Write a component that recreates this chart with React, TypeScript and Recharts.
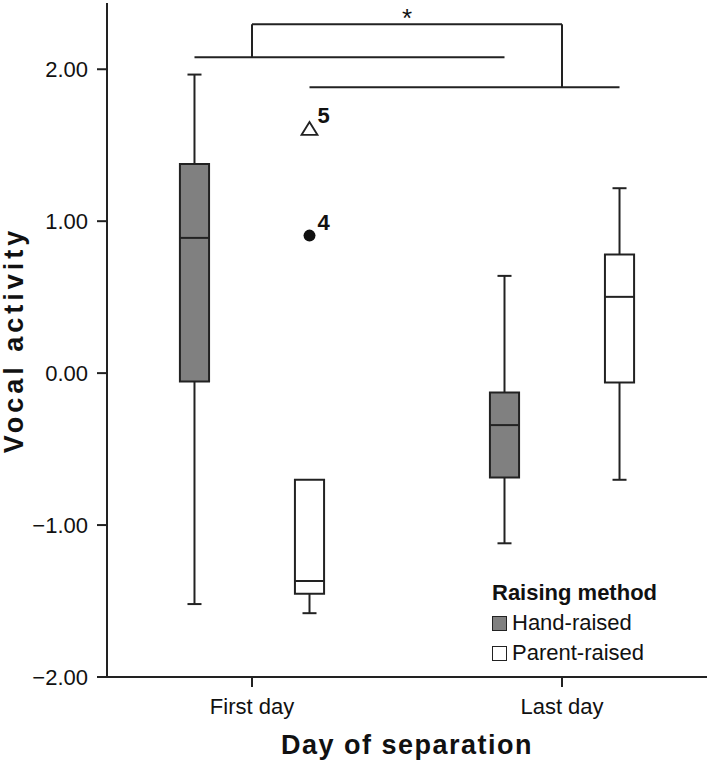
import {
  ComposedChart,
  XAxis,
  YAxis,
  Scatter,
  ReferenceArea,
  ReferenceLine,
  ReferenceDot,
  LabelList,
} from 'recharts';

const days = ['First day', 'Last day'];
const yTicks = [-2, -1, 0, 1, 2];

// box stats per day: [min, q1, median, q3, max]
const handRaised = [
  [-1.52, -0.055, 0.89, 1.377, 1.965],
  [-1.12, -0.687, -0.342, -0.128, 0.64],
];
const parentRaised = [
  [-1.58, -1.452, -1.368, -0.702, -0.702],
  [-0.702, -0.062, 0.502, 0.78, 1.217],
];

// outliers (parent-raised, first day)
const outlierCircle = [{ day: 0, y: 0.905, id: '4' }];
const outlierTriangle = [{ day: 0, y: 1.607, id: '5' }];

// significance bracket levels
const bracketHand = 2.079;
const bracketParent = 1.882;
const bracketTop = 2.296;

const FONT = 'Liberation Sans, Arial, Helvetica, sans-serif';
const INK = '#222';
const OFFSET = 0.1855;
const HALF_BOX = 0.047;
const HALF_CAP = 0.0226;

const boxes = [
  ...handRaised.map((s, i) => ({ s, x: i - OFFSET, fill: '#808080' })),
  ...parentRaised.map((s, i) => ({ s, x: i + OFFSET, fill: '#fff' })),
];
const circlePts = outlierCircle.map((p) => ({ ...p, x: p.day + OFFSET }));
const trianglePts = outlierTriangle.map((p) => ({ ...p, x: p.day + OFFSET }));

const seg = (x1: number, y1: number, x2: number, y2: number, key: string) => (
  <ReferenceLine
    key={key}
    segment={[{ x: x1, y: y1 }, { x: x2, y: y2 }]}
    stroke={INK}
    strokeWidth={2}
    ifOverflow="visible"
  />
);

const Triangle = (props: any) => {
  const { cx, cy } = props;
  return (
    <path
      d={`M${cx},${cy - 7} L${cx + 8},${cy + 6} L${cx - 8},${cy + 6} Z`}
      fill="#fff"
      stroke={INK}
      strokeWidth={1.8}
    />
  );
};

const Dot = (props: any) => {
  const { cx, cy } = props;
  return <circle cx={cx} cy={cy} r={6} fill="#111" />;
};

const OutlierLabel = (props: any) => {
  const { x, y, width, height, value } = props;
  const cx = x + (width || 0) / 2;
  const cy = y + (height || 0) / 2;
  return (
    <text x={cx + 8} y={cy - 6} fontFamily={FONT} fontWeight="bold" fontSize={22} fill="#111">
      {value}
    </text>
  );
};

export default function App() {
  return (
    <div style={{ position: 'absolute', left: 0, top: 0, width: 709, height: 762, background: '#fff' }}>
      <ComposedChart width={709} height={762} margin={{ top: 3, right: 2, bottom: 0, left: 27 }}>
        <XAxis
          type="number"
          dataKey="x"
          domain={[-0.4677, 1.4677]}
          ticks={[0, 1]}
          allowDataOverflow
          tickFormatter={(v: number) => days[v]}
          tickSize={10}
          height={85}
          stroke={INK}
          strokeWidth={2}
          tick={{ fill: '#111', fontSize: 22, fontFamily: FONT, dy: 9 }}
          label={{
            value: 'Day of separation',
            position: 'insideBottom',
            offset: 8,
            fill: '#111',
            fontSize: 27,
            fontWeight: 'bold',
            fontFamily: FONT,
            letterSpacing: 1.5,
          }}
        />
        <YAxis
          type="number"
          dataKey="y"
          domain={[-2, 2.436]}
          ticks={yTicks}
          allowDataOverflow
          tickFormatter={(v: number) => (v < 0 ? '\u2212' + Math.abs(v).toFixed(2) : v.toFixed(2))}
          tickSize={10}
          tickMargin={9}
          width={80}
          stroke={INK}
          strokeWidth={2}
          tick={{ fill: '#111', fontSize: 22, fontFamily: FONT }}
          label={{
            value: 'Vocal activity',
            angle: -90,
            position: 'insideLeft',
            offset: -14,
            style: { textAnchor: 'middle' },
            fill: '#111',
            fontSize: 27,
            fontWeight: 'bold',
            fontFamily: FONT,
            letterSpacing: 4,
          }}
        />

        {boxes.map((b, i) => {
          const [mn, q1, md, q3, mx] = b.s;
          return [
            seg(b.x, mn, b.x, q1, `wl${i}`),
            seg(b.x, q3, b.x, mx, `wu${i}`),
            mn < q1 ? seg(b.x - HALF_CAP, mn, b.x + HALF_CAP, mn, `cl${i}`) : null,
            mx > q3 ? seg(b.x - HALF_CAP, mx, b.x + HALF_CAP, mx, `cu${i}`) : null,
            <ReferenceArea
              key={`b${i}`}
              x1={b.x - HALF_BOX}
              x2={b.x + HALF_BOX}
              y1={q1}
              y2={q3}
              fill={b.fill}
              fillOpacity={1}
              stroke={INK}
              strokeWidth={2}
              ifOverflow="visible"
            />,
            seg(b.x - HALF_BOX, md, b.x + HALF_BOX, md, `m${i}`),
          ];
        })}

        {/* significance bracket */}
        {seg(-OFFSET, bracketHand, 1 - OFFSET, bracketHand, 'sh')}
        {seg(OFFSET, bracketParent, 1 + OFFSET, bracketParent, 'sp')}
        {seg(0, bracketHand, 0, bracketTop, 'sl')}
        {seg(0, bracketTop, 1, bracketTop, 'st')}
        {seg(1, bracketTop, 1, bracketParent, 'sr')}
        <ReferenceDot
          x={0.5}
          y={2.38}
          r={1}
          fill="none"
          stroke="none"
          ifOverflow="visible"
          label={{ value: '*', position: 'center', fill: '#111', fontSize: 26, fontFamily: FONT, dy: 6 }}
        />

        <Scatter data={trianglePts} shape={<Triangle />} isAnimationActive={false}>
          <LabelList dataKey="id" content={<OutlierLabel />} />
        </Scatter>
        <Scatter data={circlePts} shape={<Dot />} isAnimationActive={false}>
          <LabelList dataKey="id" content={<OutlierLabel />} />
        </Scatter>
      </ComposedChart>

      {/* legend */}
      <div
        style={{
          position: 'absolute',
          left: 492,
          top: 578,
          fontFamily: FONT,
          color: '#111',
          fontSize: 22,
          lineHeight: '30px',
        }}
      >
        <div style={{ fontWeight: 'bold' }}>Raising method</div>
        {[
          { name: 'Hand-raised', fill: '#808080' },
          { name: 'Parent-raised', fill: '#fff' },
        ].map((it) => (
          <div key={it.name} style={{ display: 'flex', alignItems: 'center' }}>
            <span
              style={{
                display: 'inline-block',
                width: 13,
                height: 13,
                background: it.fill,
                border: `1.5px solid ${INK}`,
                marginRight: 5,
              }}
            />
            {it.name}
          </div>
        ))}
      </div>
    </div>
  );
}
